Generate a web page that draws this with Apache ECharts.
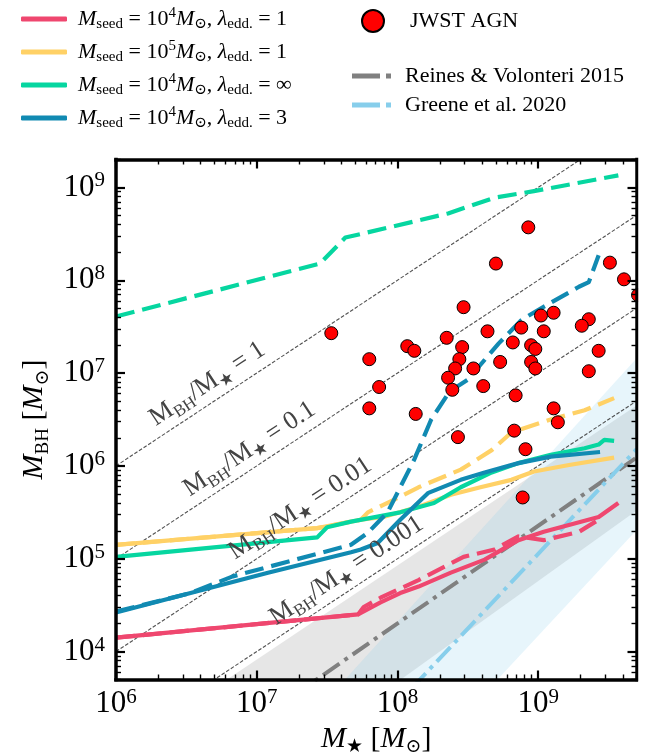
<!DOCTYPE html>
<html>
<head>
<meta charset="utf-8">
<script src="https://cdn.jsdelivr.net/npm/echarts@6/dist/echarts.min.js"></script>
<style>
  html, body { margin: 0; padding: 0; background: #fff; }
  #chart { width: 648px; height: 754px; }
</style>
</head>
<body>
<div id="chart"></div>
<script>
// All masses below are log10(M / Msun).

// JWST broad-line AGN
const agnLogMstar = [7.53, 7.80, 7.87, 8.93, 8.70, 9.51, 9.61, 9.71, 8.47, 9.02, 9.11, 9.36, 9.31, 8.88, 9.04,
  8.64, 8.35, 8.07, 8.12, 8.46, 8.82, 8.95, 8.98, 8.44, 9.43, 8.41, 8.54, 8.73, 8.95, 8.98, 9.36, 8.36, 8.39,
  8.61, 8.84, 7.80, 8.13, 9.11, 9.14, 8.83, 8.43, 8.91, 8.89];
const agnLogMbh = [7.43, 7.15, 6.85, 8.57, 8.18, 8.19, 8.01, 7.84, 7.71, 7.62, 7.65, 7.58, 7.51, 7.49, 7.45,
  7.45, 7.38, 7.29, 7.24, 7.28, 7.33, 7.30, 7.26, 7.15, 7.24, 7.05, 7.05, 7.12, 7.12, 7.05, 7.02, 6.95, 6.82,
  6.86, 6.76, 6.62, 6.56, 6.62, 6.47, 6.38, 6.31, 6.18, 5.66];

// Mseed = 1e4, lambda_edd = 1
const pinkSolidX = [6.00, 7.72, 7.88, 8.02, 8.15, 8.38, 8.62, 8.86, 9.04, 9.43, 9.57];
const pinkSolidY = [4.15, 4.40, 4.53, 4.63, 4.70, 4.85, 4.99, 5.20, 5.29, 5.45, 5.60];
const pinkDashX = [6.00, 7.72, 7.76, 7.88, 8.15, 8.47, 8.69, 8.86, 9.04, 9.29, 9.43];
const pinkDashY = [4.15, 4.40, 4.48, 4.58, 4.77, 5.02, 5.10, 5.24, 5.20, 5.29, 5.42];

// Mseed = 1e5, lambda_edd = 1
const yellowSolidX = [6.00, 7.43, 7.74, 7.90, 8.15, 8.38, 8.59, 8.81, 8.97, 9.22, 9.54];
const yellowSolidY = [5.15, 5.33, 5.42, 5.45, 5.56, 5.69, 5.77, 5.85, 5.94, 6.01, 6.09];
const yellowDashX = [6.00, 7.43, 7.74, 7.79, 7.90, 7.97, 8.15, 8.45, 8.67, 8.81, 9.09, 9.33, 9.54];
const yellowDashY = [5.15, 5.33, 5.42, 5.50, 5.58, 5.63, 5.77, 5.96, 6.17, 6.36, 6.50, 6.60, 6.73];

// Mseed = 1e4, lambda_edd = infinity
const greenSolidX = [6.00, 7.43, 7.50, 7.67, 8.02, 8.26, 8.45, 8.67, 8.86, 9.09, 9.33, 9.43, 9.47, 9.54];
const greenSolidY = [5.02, 5.23, 5.34, 5.40, 5.50, 5.60, 5.77, 5.93, 6.03, 6.12, 6.19, 6.23, 6.28, 6.27];
const greenDashX = [6.00, 7.45, 7.63, 7.97, 8.36, 8.69, 8.97, 9.57];
const greenDashY = [7.61, 8.18, 8.46, 8.58, 8.72, 8.89, 8.96, 9.13];

// Mseed = 1e4, lambda_edd = 3
const blueSolidX = [6.00, 6.53, 7.08, 7.67, 7.74, 7.86, 8.02, 8.22, 8.45, 8.62, 8.86, 9.09, 9.44];
const blueSolidY = [4.42, 4.63, 4.85, 5.07, 5.10, 5.17, 5.42, 5.71, 5.85, 5.93, 6.03, 6.10, 6.15];
const blueDashX = [6.00, 6.53, 6.83, 7.67, 7.79, 7.93, 8.12, 8.24, 8.37, 8.50, 8.72, 8.88, 9.00, 9.29, 9.36, 9.43];
const blueDashY = [4.43, 4.63, 4.81, 5.15, 5.28, 5.50, 6.07, 6.50, 6.80, 6.93, 7.32, 7.57, 7.68, 7.93, 7.98, 8.27];

// Local scaling relations and their spread
const rvLogMstar = [6.0, 9.7];
const rvLogMbh = [2.20, 6.09];
const rvBandUpper = [2.90, 6.65];
const rvBandLower = [1.50, 5.52];
const greeneLogMstar = [6.0, 9.7];
const greeneLogMbh = [0.22, 6.18];
const greeneBandUpper = [0.98, 7.16];
const greeneBandLower = [-0.72, 5.31];

// Constant mass-ratio guides and where their labels sit (log M*)
const ratioValues = [1, 0.1, 0.01, 0.001];
const ratioLabels = ['1', '0.1', '0.01', '0.001'];
const ratioLabelAt = [6.72, 7.02, 7.38, 7.71];

// Axis ticks
const xMajor = [1e6, 1e7, 1e8, 1e9];
const yMajor = [1e4, 1e5, 1e6, 1e7, 1e8, 1e9];
const X_MIN = 1e6, X_MAX = 5e9, Y_MIN = 5e3, Y_MAX = 2e9;

const FONT = '"Liberation Serif", "Times New Roman", "DejaVu Serif", serif';
const PINK = '#ef476f', YELLOW = '#ffd166', GREEN = '#06d6a0', BLUE = '#118ab2';

const pow10 = v => Math.pow(10, v);
const pairs = (xs, ys) => xs.map((x, i) => [pow10(x), pow10(ys[i])]);

function minorTicks(lo, hi) {
  const out = [];
  for (let d = 1e3; d <= 1e9; d *= 10) {
    for (let m = 2; m <= 9; m++) {
      const v = m * d;
      if (v >= lo && v <= hi) out.push(v);
    }
  }
  return out;
}
const xMinor = minorTicks(X_MIN, X_MAX);
const yMinor = minorTicks(Y_MIN, Y_MAX);

const tickRich = {
  b: { fontFamily: FONT, fontSize: 31, lineHeight: 34, color: '#000' },
  e: { fontFamily: FONT, fontSize: 21, lineHeight: 20, verticalAlign: 'top', color: '#000' }
};
const tickFormatter = v => `{b|10}{e|${Math.round(Math.log10(v))}}`;

const nameRich = {
  i: { fontFamily: FONT, fontStyle: 'italic', fontSize: 30, lineHeight: 36, color: '#000' },
  n: { fontFamily: FONT, fontSize: 30, lineHeight: 36, color: '#000' },
  s: { fontFamily: FONT, fontSize: 19, lineHeight: 19, verticalAlign: 'bottom', color: '#000' }
};

function xAxisDef(position, ticks, len, width, withLine, withLabel) {
  return {
    type: 'log', logBase: 10, min: X_MIN, max: X_MAX, position, z: 10,
    axisLine: { show: withLine, onZero: false, lineStyle: { color: '#000', width: 3.5, cap: 'square' } },
    axisTick: { show: true, inside: true, length: len, customValues: ticks, lineStyle: { color: '#000', width } },
    axisLabel: withLabel
      ? { show: true, customValues: ticks, formatter: tickFormatter, rich: tickRich, margin: 7 }
      : { show: false },
    splitLine: { show: false }, minorTick: { show: false }, minorSplitLine: { show: false }
  };
}
function yAxisDef(position, ticks, len, width, withLine, withLabel) {
  return {
    type: 'log', logBase: 10, min: Y_MIN, max: Y_MAX, position, z: 10,
    axisLine: { show: withLine, onZero: false, lineStyle: { color: '#000', width: 3.5, cap: 'square' } },
    axisTick: { show: true, inside: true, length: len, customValues: ticks, lineStyle: { color: '#000', width } },
    axisLabel: withLabel
      ? { show: true, customValues: ticks, formatter: tickFormatter, rich: tickRich, margin: 11 }
      : { show: false },
    splitLine: { show: false }, minorTick: { show: false }, minorSplitLine: { show: false }
  };
}

const xAxes = [
  xAxisDef('bottom', xMajor, 9, 2.2, true, true),
  xAxisDef('bottom', xMinor, 5, 1.4, false, false),
  xAxisDef('top', xMajor, 9, 2.2, true, false),
  xAxisDef('top', xMinor, 5, 1.4, false, false)
];
Object.assign(xAxes[0], {
  name: '{i|M}{s|★}{n| [}{i|M}{s|⊙}{n|]}',
  nameLocation: 'middle', nameGap: 36, nameTextStyle: { rich: nameRich }
});
const yAxes = [
  yAxisDef('left', yMajor, 9, 2.2, true, true),
  yAxisDef('left', yMinor, 5, 1.4, false, false),
  yAxisDef('right', yMajor, 9, 2.2, true, false),
  yAxisDef('right', yMinor, 5, 1.4, false, false)
];
Object.assign(yAxes[0], {
  name: '{i|M}{s|BH}{n| [}{i|M}{s|⊙}{n|]}',
  nameLocation: 'middle', nameGap: 55, nameRotate: 90, nameTextStyle: { rich: nameRich }
});

function bandSeries(name, xs, upper, lower, color) {
  return {
    name, type: 'custom', clip: true, silent: true, z: 1,
    data: [[X_MIN, Y_MIN]],
    renderItem: (params, api) => {
      const pts = [];
      xs.forEach((x, i) => pts.push(api.coord([pow10(x), pow10(upper[i])])));
      for (let i = xs.length - 1; i >= 0; i--) pts.push(api.coord([pow10(xs[i]), pow10(lower[i])]));
      return { type: 'polygon', shape: { points: pts }, style: { fill: color } };
    }
  };
}

function modelLine(name, xs, ys, color, dashed) {
  return {
    name, type: 'line', data: pairs(xs, ys), symbol: 'none', silent: true, z: 4,
    lineStyle: { color, width: 4.2, type: dashed ? [19, 8] : 'solid', cap: 'butt', join: 'round' },
    itemStyle: { color }
  };
}

const LEG = {
  pink: 'seed 1e4, edd 1', yellow: 'seed 1e5, edd 1', green: 'seed 1e4, edd inf', blue: 'seed 1e4, edd 3'
};
const legendLabels = {
  [LEG.pink]: '{i|M}{sb|seed}{n| = 10}{sp|4}{i|M}{sb|⊙}{n|, }{i|λ}{sb|edd.}{n| = 1}',
  [LEG.yellow]: '{i|M}{sb|seed}{n| = 10}{sp|5}{i|M}{sb|⊙}{n|, }{i|λ}{sb|edd.}{n| = 1}',
  [LEG.green]: '{i|M}{sb|seed}{n| = 10}{sp|4}{i|M}{sb|⊙}{n|, }{i|λ}{sb|edd.}{n| = ∞}',
  [LEG.blue]: '{i|M}{sb|seed}{n| = 10}{sp|4}{i|M}{sb|⊙}{n|, }{i|λ}{sb|edd.}{n| = 3}'
};
const legendRich = {
  i: { fontFamily: FONT, fontStyle: 'italic', fontSize: 22, lineHeight: 26, color: '#000' },
  n: { fontFamily: FONT, fontSize: 22, lineHeight: 26, color: '#000' },
  sb: { fontFamily: FONT, fontSize: 15, lineHeight: 15, verticalAlign: 'bottom', color: '#000' },
  sp: { fontFamily: FONT, fontSize: 15, lineHeight: 15, verticalAlign: 'top', color: '#000' }
};
// a long dash followed by a dot, for the dash-dot relations
const DASH_DOT_ICON = 'path://M0,0H28V5H0Z M34,0H39V5H34Z';

const series = [
  bandSeries('rv band', rvLogMstar, rvBandUpper, rvBandLower, 'rgba(128,128,128,0.2)'),
  bandSeries('greene band', greeneLogMstar, greeneBandUpper, greeneBandLower, 'rgba(135,206,235,0.2)')
];
ratioValues.forEach((r, k) => {
  series.push({
    name: 'ratio ' + ratioLabels[k], type: 'line', silent: true, symbol: 'none', z: 2,
    data: [[X_MIN, r * X_MIN], [X_MAX, r * X_MAX]],
    lineStyle: { color: 'rgba(50,50,50,0.85)', width: 1.1, type: [3.7, 1.8] }
  });
});
series.push(
  {
    name: 'Reines & Volonteri 2015', type: 'line', symbol: 'none', silent: true, z: 3,
    data: pairs(rvLogMstar, rvLogMbh),
    lineStyle: { color: '#808080', width: 4, type: [20, 6, 4, 6] }, itemStyle: { color: '#808080' }
  },
  {
    name: 'Greene et al. 2020', type: 'line', symbol: 'none', silent: true, z: 3,
    data: pairs(greeneLogMstar, greeneLogMbh),
    lineStyle: { color: '#87ceeb', width: 4, type: [20, 6, 4, 6] }, itemStyle: { color: '#87ceeb' }
  },
  modelLine(LEG.pink, pinkSolidX, pinkSolidY, PINK, false),
  modelLine('pink dashed', pinkDashX, pinkDashY, PINK, true),
  modelLine(LEG.yellow, yellowSolidX, yellowSolidY, YELLOW, false),
  modelLine('yellow dashed', yellowDashX, yellowDashY, YELLOW, true),
  modelLine(LEG.green, greenSolidX, greenSolidY, GREEN, false),
  modelLine('green dashed', greenDashX, greenDashY, GREEN, true),
  modelLine(LEG.blue, blueSolidX, blueSolidY, BLUE, false),
  modelLine('blue dashed', blueDashX, blueDashY, BLUE, true),
  {
    name: 'JWST AGN', type: 'scatter', clip: false, z: 6, symbol: 'circle', symbolSize: 13,
    data: pairs(agnLogMstar, agnLogMbh),
    itemStyle: { color: '#ff0000', borderColor: '#000', borderWidth: 1, opacity: 1 }
  }
);

const chart = echarts.init(document.getElementById('chart'), null, { renderer: 'canvas' });
chart.setOption({
  animation: false,
  backgroundColor: '#fff',
  grid: { left: 116, right: 11.5, top: 159.5, bottom: 74.5, containLabel: false, outerBoundsMode: 'none' },
  xAxis: xAxes,
  yAxis: yAxes,
  legend: [
    {
      data: [LEG.pink, LEG.yellow, LEG.green, LEG.blue].map(name => ({ name, icon: 'roundRect' })),
      orient: 'vertical', left: 16, top: 1,
      itemWidth: 46, itemHeight: 5, itemGap: 7, selectedMode: false,
      formatter: n => legendLabels[n],
      textStyle: { fontFamily: FONT, fontSize: 22, color: '#000', rich: legendRich, padding: [0, 0, 0, 6] }
    },
    {
      data: [{ name: 'JWST AGN', icon: 'circle' }], left: 356, top: 4, itemWidth: 22, itemHeight: 22,
      selectedMode: false,
      textStyle: { fontFamily: FONT, fontSize: 22, lineHeight: 24, color: '#000', padding: [0, 0, 0, 21] }
    },
    {
      data: ['Reines & Volonteri 2015', 'Greene et al. 2020'].map(name => ({ name, icon: DASH_DOT_ICON })),
      orient: 'vertical', left: 347, top: 59,
      itemWidth: 39, itemHeight: 5, itemGap: 5, selectedMode: false,
      textStyle: { fontFamily: FONT, fontSize: 22, lineHeight: 24, color: '#000', padding: [0, 0, 0, 9] }
    }
  ],
  series
});

// Rotated labels for the constant-ratio guides, placed just above each line
const ratioRich = {
  n: { fontFamily: FONT, fontSize: 26, lineHeight: 32, fill: '#444' },
  s: { fontFamily: FONT, fontSize: 17, lineHeight: 17, verticalAlign: 'bottom', fill: '#444' }
};
const graphics = ratioValues.map((r, k) => {
  const a = chart.convertToPixel({ gridIndex: 0 }, [1e6, r * 1e6]);
  const b = chart.convertToPixel({ gridIndex: 0 }, [1e9, r * 1e9]);
  const ang = Math.atan2(a[1] - b[1], b[0] - a[0]);
  const xv = pow10(ratioLabelAt[k]);
  const p = chart.convertToPixel({ gridIndex: 0 }, [xv, r * xv]);
  const off = 18;
  return {
    type: 'text', z: 50,
    x: p[0] - off * Math.sin(ang), y: p[1] - off * Math.cos(ang), rotation: ang,
    style: {
      text: `{n|M}{s|BH}{n|/M}{s|★}{n| = ${ratioLabels[k]}}`, rich: ratioRich,
      align: 'center', verticalAlign: 'middle', fontFamily: FONT, fontSize: 26, fill: '#444'
    }
  };
});
// margin beyond the right frame stays blank
const corner = chart.convertToPixel({ gridIndex: 0 }, [X_MAX, Y_MAX]);
graphics.push({
  type: 'rect', z: 100, silent: true,
  shape: { x: corner[0] + 1.8, y: 120, width: 40, height: 600 },
  style: { fill: '#fff' }
});
chart.setOption({ graphic: graphics });
</script>
</body>
</html>
